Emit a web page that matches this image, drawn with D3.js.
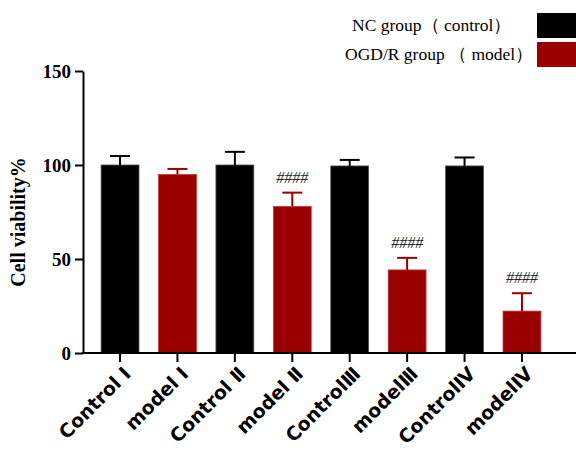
<!DOCTYPE html>
<html>
<head>
<meta charset="utf-8">
<script src="https://cdn.jsdelivr.net/npm/d3@7"></script>
<style>
  body { margin: 0; background: #fff; }
  svg { display: block; }
</style>
</head>
<body>
<div id="chart"></div>
<script>
const categories = ['Control Ⅰ', 'model Ⅰ', 'Control Ⅱ', 'model Ⅱ', 'ControlⅢ', 'modelⅢ', 'ControlⅣ', 'modelⅣ'];
const groups = ['control', 'model', 'control', 'model', 'control', 'model', 'control', 'model'];
const values = [100, 95, 100, 78, 99.5, 44.2, 99.5, 22.3];
const errors = [4.8, 2.9, 7, 7.3, 3.2, 6.4, 4.5, 9.5];
const marks = ['', '', '', '####', '', '####', '', '####'];
const yTicks = [0, 50, 100, 150];
const legendLabels = ['NC group（ control）', 'OGD/R group （ model）'];

const colors = { control: '#000000', model: '#9b0000' };
const borders = { control: '#555555', model: '#c04040' };

const W = 576, H = 454;
const margin = { top: 71, left: 83, bottom: 101 };
const plotBottom = H - margin.bottom;

const svg = d3.select('#chart').append('svg')
  .attr('width', W).attr('height', H);

const x = d3.scaleBand()
  .domain(categories)
  .range([margin.left, 559])
  .paddingInner(0.34)
  .paddingOuter(0.315);

const y = d3.scaleLinear()
  .domain([0, 150])
  .range([plotBottom, margin.top]);

const data = categories.map((c, i) => ({ c, g: groups[i], v: values[i], e: errors[i], m: marks[i] }));

// bars
svg.append('g').selectAll('rect')
  .data(data).enter().append('rect')
  .attr('x', d => x(d.c))
  .attr('y', d => y(d.v))
  .attr('width', x.bandwidth())
  .attr('height', d => y(0) - y(d.v))
  .attr('fill', d => colors[d.g])
  .attr('stroke', d => borders[d.g])
  .attr('stroke-width', 0.8);

// error bars
const eb = svg.append('g').selectAll('g')
  .data(data).enter().append('g')
  .attr('stroke', d => colors[d.g])
  .attr('stroke-width', 2);
eb.append('line')
  .attr('x1', d => x(d.c) + x.bandwidth() / 2)
  .attr('x2', d => x(d.c) + x.bandwidth() / 2)
  .attr('y1', d => y(d.v))
  .attr('y2', d => y(d.v + d.e));
eb.append('line')
  .attr('x1', d => x(d.c) + x.bandwidth() / 2 - 10)
  .attr('x2', d => x(d.c) + x.bandwidth() / 2 + 10)
  .attr('y1', d => y(d.v + d.e))
  .attr('y2', d => y(d.v + d.e));

// significance marks
svg.append('g').selectAll('text')
  .data(data.filter(d => d.m)).enter().append('text')
  .attr('x', d => x(d.c) + x.bandwidth() / 2)
  .attr('y', d => y(d.v + d.e) - 10)
  .attr('text-anchor', 'middle')
  .attr('font-family', 'Liberation Serif, serif')
  .attr('font-style', 'italic')
  .attr('font-size', 16)
  .attr('fill', '#222')
  .text(d => d.m);

// y axis
const yAxis = svg.append('g')
  .attr('transform', `translate(${margin.left},0)`)
  .call(d3.axisLeft(y).tickValues(yTicks).tickSize(8).tickSizeOuter(0).tickPadding(4));
yAxis.selectAll('path, line').attr('stroke', '#000').attr('stroke-width', 2);
yAxis.selectAll('text')
  .attr('font-family', 'Liberation Serif, serif')
  .attr('font-weight', 'bold')
  .attr('font-size', 19)
  .attr('fill', '#000');

// x axis
const xAxis = svg.append('g')
  .attr('transform', `translate(0,${plotBottom})`)
  .call(d3.axisBottom(x).tickSize(9).tickSizeOuter(0));
xAxis.select('.domain').remove();
xAxis.append('line')
  .attr('x1', margin.left - 1).attr('x2', W)
  .attr('stroke', '#000').attr('stroke-width', 2);
xAxis.selectAll('.tick line').attr('stroke', '#000').attr('stroke-width', 2);
xAxis.selectAll('.tick text')
  .attr('font-family', 'DejaVu Sans, sans-serif')
  .attr('font-weight', 'bold')
  .attr('font-size', 19)
  .attr('fill', '#000')
  .attr('text-anchor', 'end')
  .attr('dy', 0)
  .attr('y', 0)
  .attr('transform', 'translate(12,22) rotate(-45)');

// y label
svg.append('text')
  .attr('transform', `translate(25,${(margin.top + plotBottom) / 2 + 10}) rotate(-90)`)
  .attr('text-anchor', 'middle')
  .attr('font-family', 'Liberation Serif, serif')
  .attr('font-weight', 'bold')
  .attr('font-size', 20)
  .text('Cell viability%');

// legend
const legend = svg.append('g').selectAll('g')
  .data(legendLabels).enter().append('g')
  .attr('transform', (d, i) => `translate(0,${13 + i * 29})`);
legend.append('rect')
  .attr('x', 537).attr('y', 0)
  .attr('width', 45).attr('height', 25)
  .attr('fill', (d, i) => i === 0 ? colors.control : colors.model);
legend.append('text')
  .attr('x', (d, i) => i === 0 ? 352 : 345).attr('y', 18)
  .attr('font-family', 'Liberation Serif, serif')
  .attr('font-size', 17.5)
  .text(d => d);
</script>
</body>
</html>
